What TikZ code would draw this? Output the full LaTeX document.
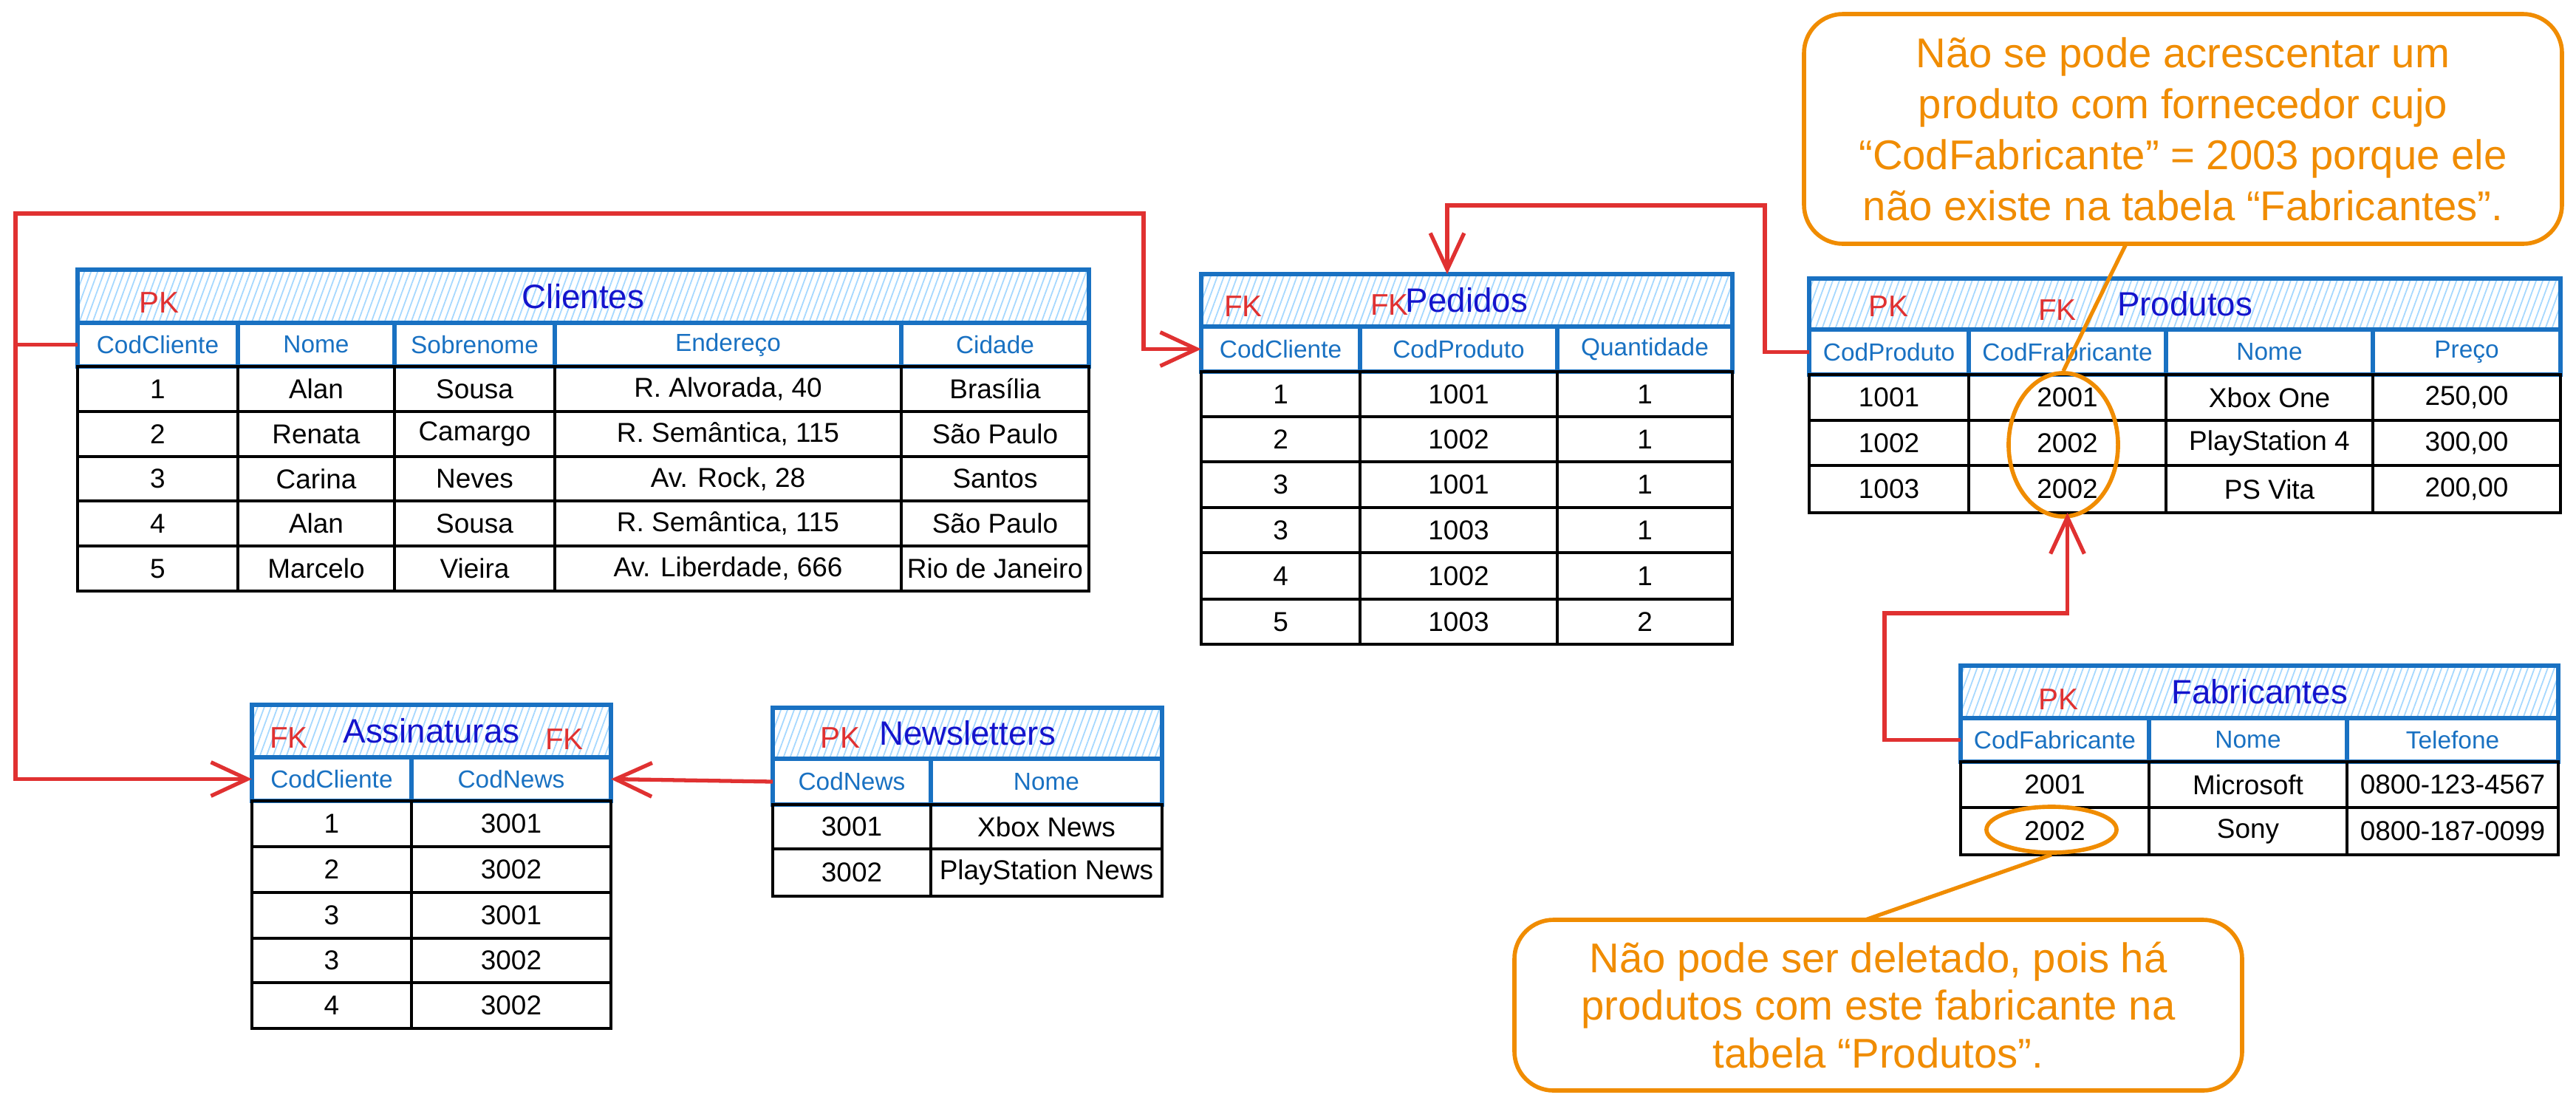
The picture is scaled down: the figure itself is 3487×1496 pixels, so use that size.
\documentclass[tikz,border=0pt]{standalone}
\usepackage{fontspec}
\setmainfont{Liberation Sans}
\usetikzlibrary{patterns.meta,arrows.meta,shapes.geometric}
\definecolor{tblue}{HTML}{1971C2}
\definecolor{ttitle}{HTML}{1414CC}
\definecolor{kred}{HTML}{E03131}
\definecolor{corange}{HTML}{F08C00}
\definecolor{hatch}{HTML}{A5D8FF}
\tikzset{
 basecell/.style={anchor=north west, inner sep=0pt, outer sep=0pt, align=center},
 datacell/.style={basecell, draw=black, line width=1.3pt, font=\fontsize{10.5}{12}\selectfont, text=black},
 headcell/.style={basecell, draw=tblue, line width=1.5pt, fill=white, font=\fontsize{9.5}{11}\selectfont, text=tblue},
 titlecell/.style={basecell, draw=tblue, line width=1.5pt, pattern={Lines[angle=70,distance=2.4pt,line width=0.5pt]}, pattern color=hatch, font=\fontsize{13}{15}\selectfont, text=ttitle},
 keylabel/.style={text=kred, font=\fontsize{11.5}{12}\selectfont, inner sep=0pt},
 calloutbox/.style={basecell, draw=corange, line width=1.6pt, rounded corners=15pt, text=corange, font=\fontsize{16}{19.6}\selectfont},
 markring/.style={ellipse, draw=corange, line width=1.6pt, inner sep=0pt},
 pointer/.style={draw=corange, line width=1.5pt},
 rel/.style={draw=kred, line width=1.5pt, -{Straight Barb[length=14pt,width=13pt]}},
}
\newcommand\mkcell[7]{\node[#2, minimum width={(#5-#3)*0.01cm}, minimum height={(#6-#4)*0.01cm}] (#1) at (#3,#4) {#7};}
\begin{document}
\begin{tikzpicture}[x=0.01cm, y=-0.01cm]
\fill[white] (0,0) rectangle (3487,1496);
\useasboundingbox (0,0) rectangle (3487,1496);

% ---------- Clientes ----------
\mkcell{cli-t}{titlecell}{105}{365}{1474}{437}{Clientes}
\foreach \n/\xa/\xb/\t in {1/105/322/CodCliente,2/322/534/Nome,3/534/751/Sobrenome,4/751/1220/Endereço,5/1220/1474/Cidade}{\mkcell{cli-h\n}{headcell}{\xa}{437}{\xb}{496}{\t}}
\foreach \ya/\yb/\qa/\qb/\qc/\qd/\qe [count=\r] in {496/557/1/Alan/Sousa/{R. Alvorada, 40}/Brasília,557/618/2/Renata/Camargo/{R. Semântica, 115}/São Paulo,618/678/3/Carina/Neves/{Av. Rock, 28}/Santos,678/739/4/Alan/Sousa/{R. Semântica, 115}/São Paulo,739/800/5/Marcelo/Vieira/{Av. Liberdade, 666}/Rio de Janeiro}{
 \mkcell{cli-\r-1}{datacell}{105}{\ya}{322}{\yb}{\qa}
 \mkcell{cli-\r-2}{datacell}{322}{\ya}{534}{\yb}{\qb}
 \mkcell{cli-\r-3}{datacell}{534}{\ya}{751}{\yb}{\qc}
 \mkcell{cli-\r-4}{datacell}{751}{\ya}{1220}{\yb}{\qd}
 \mkcell{cli-\r-5}{datacell}{1220}{\ya}{1474}{\yb}{\qe}
}
\node[keylabel] (cli-pk) at (215,410) {PK};

% ---------- Pedidos ----------
\mkcell{ped-t}{titlecell}{1626}{371}{2345}{442}{Pedidos}
\foreach \n/\xa/\xb/\t in {1/1626/1841/CodCliente,2/1841/2108/CodProduto,3/2108/2345/Quantidade}{\mkcell{ped-h\n}{headcell}{\xa}{442}{\xb}{503}{\t}}
\foreach \ya/\yb/\qa/\qb/\qc [count=\r] in {503/564/1/1001/1,564/625/2/1002/1,625/687/3/1001/1,687/748/3/1003/1,748/811/4/1002/1,811/872/5/1003/2}{
 \mkcell{ped-\r-1}{datacell}{1626}{\ya}{1841}{\yb}{\qa}
 \mkcell{ped-\r-2}{datacell}{1841}{\ya}{2108}{\yb}{\qb}
 \mkcell{ped-\r-3}{datacell}{2108}{\ya}{2345}{\yb}{\qc}
}
\node[keylabel] (ped-fk1) at (1683,415) {FK};
\node[keylabel] (ped-fk2) at (1881,413) {FK};

% ---------- Produtos ----------
\mkcell{pro-t}{titlecell}{2449}{377}{3466}{446}{Produtos}
\foreach \n/\xa/\xb/\t in {1/2449/2665/CodProduto,2/2665/2932/CodFrabricante,3/2932/3212/Nome,4/3212/3466/Preço}{\mkcell{pro-h\n}{headcell}{\xa}{446}{\xb}{507}{\t}}
\foreach \ya/\yb/\qa/\qb/\qc/\qd [count=\r] in {507/569/1001/2001/Xbox One/{250,00},569/630/1002/2002/PlayStation 4/{300,00},630/694/1003/2002/PS Vita/{200,00}}{
 \mkcell{pro-\r-1}{datacell}{2449}{\ya}{2665}{\yb}{\qa}
 \mkcell{pro-\r-2}{datacell}{2665}{\ya}{2932}{\yb}{\qb}
 \mkcell{pro-\r-3}{datacell}{2932}{\ya}{3212}{\yb}{\qc}
 \mkcell{pro-\r-4}{datacell}{3212}{\ya}{3466}{\yb}{\qd}
}
\node[keylabel] (pro-pk) at (2556,415) {PK};
\node[keylabel] (pro-fk) at (2785,420) {FK};

% ---------- Fabricantes ----------
\mkcell{fab-t}{titlecell}{2654}{901}{3463}{972}{Fabricantes}
\foreach \n/\xa/\xb/\t in {1/2654/2909/CodFabricante,2/2909/3177/Nome,3/3177/3463/Telefone}{\mkcell{fab-h\n}{headcell}{\xa}{972}{\xb}{1031}{\t}}
\foreach \ya/\yb/\qa/\qb/\qc [count=\r] in {1031/1093/2001/Microsoft/0800-123-4567,1093/1157/2002/Sony/0800-187-0099}{
 \mkcell{fab-\r-1}{datacell}{2654}{\ya}{2909}{\yb}{\qa}
 \mkcell{fab-\r-2}{datacell}{2909}{\ya}{3177}{\yb}{\qb}
 \mkcell{fab-\r-3}{datacell}{3177}{\ya}{3463}{\yb}{\qc}
}
\node[keylabel] (fab-pk) at (2786,947) {PK};

% ---------- Assinaturas ----------
\mkcell{asn-t}{titlecell}{341}{954}{827}{1025}{Assinaturas}
\foreach \n/\xa/\xb/\t in {1/341/557/CodCliente,2/557/827/CodNews}{\mkcell{asn-h\n}{headcell}{\xa}{1025}{\xb}{1084}{\t}}
\foreach \ya/\yb/\qa/\qb [count=\r] in {1084/1146/1/3001,1146/1208/2/3002,1208/1270/3/3001,1270/1330/3/3002,1330/1392/4/3002}{
 \mkcell{asn-\r-1}{datacell}{341}{\ya}{557}{\yb}{\qa}
 \mkcell{asn-\r-2}{datacell}{557}{\ya}{827}{\yb}{\qb}
}
\node[keylabel] (asn-fk1) at (391,999) {FK};
\node[keylabel] (asn-fk2) at (764,1001) {FK};

% ---------- Newsletters ----------
\mkcell{nws-t}{titlecell}{1046}{958}{1573}{1027}{Newsletters}
\foreach \n/\xa/\xb/\t in {1/1046/1260/CodNews,2/1260/1573/Nome}{\mkcell{nws-h\n}{headcell}{\xa}{1027}{\xb}{1089}{\t}}
\foreach \ya/\yb/\qa/\qb [count=\r] in {1089/1149/3001/Xbox News,1149/1213/3002/PlayStation News}{
 \mkcell{nws-\r-1}{datacell}{1046}{\ya}{1260}{\yb}{\qa}
 \mkcell{nws-\r-2}{datacell}{1260}{\ya}{1573}{\yb}{\qb}
}
\node[keylabel] (nws-pk) at (1137,999) {PK};

% ---------- callouts ----------
\mkcell{c1}{calloutbox}{2442}{19}{3468}{330}{Não se pode acrescentar um\\produto com fornecedor cujo\\“CodFabricante” = 2003 porque ele\\não existe na tabela “Fabricantes”.}
\mkcell{c2}{calloutbox, font=\fontsize{16}{18.4}\selectfont}{2050}{1245}{3035}{1476}{Não pode ser deletado, pois há\\produtos com este fabricante na\\tabela “Produtos”.}
\node[markring, minimum width=1.48cm, minimum height=1.94cm] (e1) at (2793,602) {};
\node[markring, minimum width=1.76cm, minimum height=0.62cm] (e2) at (2777,1123) {};
\coordinate (p1x) at (2878,0);
\coordinate (p2x) at (2525,0);
\draw[pointer] (c1.south -| p1x) -- (e1.north);
\draw[pointer] (e2.south) -- (c2.north -| p2x);

% ---------- relations ----------
\coordinate (L1) at (21,289);
\coordinate (L2) at (1548,289);
\draw[rel] (cli-h1.west) -- (cli-h1.west -| L1) -- (L1) -- (L2) |- (ped-h1.west);
\draw[rel] (cli-h1.west -| L1) |- (asn-h1.west);
\coordinate (P1) at (2389,278);
\coordinate (P2) at (1959,278);
\draw[rel] (pro-h1.west) -| (P1) -- (P2) -- (P2 |- ped-t.north);
\coordinate (F1) at (2551,830);
\draw[rel] (fab-h1.west) -| (F1) -| (pro-3-2.south);
\draw[rel] (nws-h1.west) -- (asn-h2.east);
\end{tikzpicture}
\end{document}
